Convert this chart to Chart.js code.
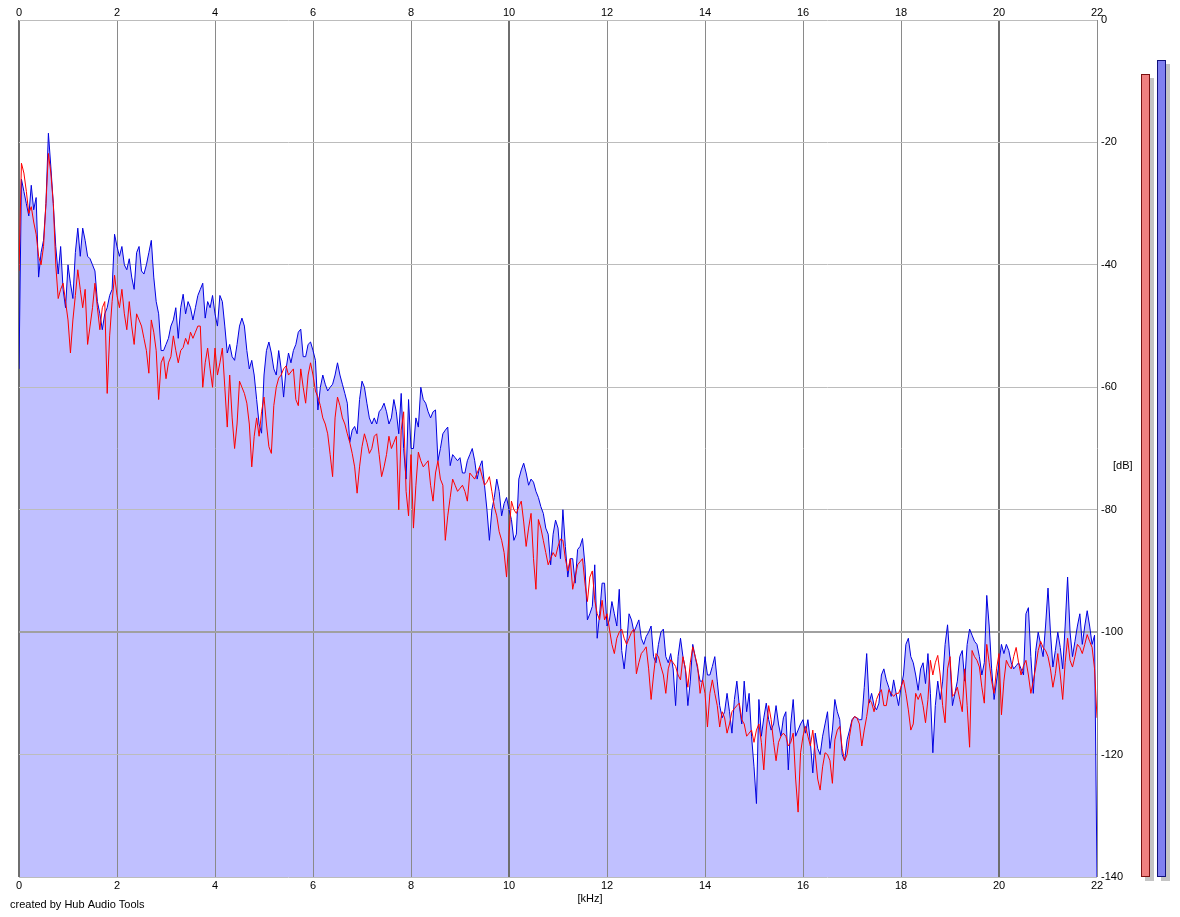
<!DOCTYPE html>
<html>
<head>
<meta charset="utf-8">
<script src="https://cdn.jsdelivr.net/npm/chart.js@4.4.1/dist/chart.umd.min.js"></script>
<style>
  html, body { margin: 0; padding: 0; background: #fff; }
  canvas { display: block; }
</style>
</head>
<body>
<canvas id="spectrum" width="1180" height="917"></canvas>
<script>
// spectrum, one value every 0.05 kHz from 0 to 22 kHz (dB), 10 values per row = 0.5 kHz
const freqStep = 0.05;

const blueDb = [
  -57, -26, -28, -30, -32, -27, -31, -29, -42, -38,
  -36, -30, -18.5, -24, -30, -37, -41.5, -37, -44, -47,
  -40, -43, -45.5, -38, -34, -38.6, -34, -36, -38.6, -39,
  -40, -41, -46, -48, -50.6, -48, -47, -45, -44, -35,
  -37, -38.6, -37, -40, -40.8, -39, -42, -44, -38, -37,
  -41, -41.5, -40, -38, -36, -42, -46, -48, -54, -54,
  -53, -52, -50, -49, -47, -52, -47, -44.8, -48, -46,
  -47, -49, -47, -45, -44, -43, -48.7, -46, -47, -45,
  -48, -50, -45, -46, -50, -54.4, -53, -55, -55.6, -53,
  -50, -48.7, -50, -54, -57, -55.6, -58, -62, -66, -67.5,
  -58, -54, -52.6, -54.4, -57, -58, -54, -57, -61.6, -57,
  -54.4, -56, -54, -53, -51, -50.5, -55, -55, -53, -52.6,
  -54, -55.6, -63.7, -60, -58, -59.5, -60.6, -60, -59.5, -58,
  -56, -58, -59.5, -61, -62.6, -69, -67, -66.4, -67.6, -62,
  -59, -60, -62.6, -65, -66, -65, -66, -64, -63.5, -62.6,
  -64, -66, -65, -62, -64, -67.6, -61, -70, -75, -62,
  -70, -70, -65, -66.5, -60, -62, -62.6, -64, -65, -64,
  -63.7, -72, -70, -67.6, -67, -66.5, -72.8, -71, -71.5, -72,
  -71.5, -74, -74, -72, -71, -70, -72, -75, -73, -72,
  -76, -80, -85, -80, -78, -75, -77, -81, -79, -78,
  -80, -81.6, -85, -84, -75, -73.5, -72.4, -74, -76, -75,
  -75.5, -77, -78, -79.5, -80.6, -83, -84, -89, -84, -81.7,
  -83, -88, -80, -86, -91, -88, -88, -92, -86.5, -86,
  -84.7, -89, -98, -97, -95.8, -89, -101, -97, -92, -92,
  -99, -98, -95, -97, -99, -93, -103, -106, -102, -97,
  -98, -100, -99, -98, -101, -102, -100.7, -100, -99, -104,
  -105, -102, -100, -99.5, -104, -105, -103.5, -106, -112, -104,
  -101, -104, -106, -112, -108, -102, -104, -106, -108, -108,
  -104, -107, -107, -105.6, -104, -108, -112, -114, -113, -110,
  -113, -116.5, -111, -108, -112, -115, -108, -113, -110, -117,
  -122, -128, -111, -117, -114, -111.6, -114.3, -116, -115, -112,
  -115, -117, -114, -113, -122.5, -115, -111, -117, -116, -115,
  -114.3, -116.5, -114.3, -118, -123, -116.5, -119, -120, -117, -115,
  -113, -119, -116, -111, -113, -114.3, -120, -121, -117.6, -116,
  -114.3, -113.8, -114, -114.3, -114.3, -109, -103.5, -111.6, -110, -112,
  -112.7, -111.6, -107, -106, -107.8, -109, -110.5, -107.8, -110, -112,
  -109, -107, -102, -101, -104, -105, -107, -109.5, -106, -105,
  -108.4, -103.5, -110, -119.7, -112, -108, -111, -108, -102, -98.8,
  -104.6, -112, -110, -108, -104, -103, -108, -102, -99.5, -100.5,
  -101.5, -102, -104, -107, -105, -94, -99, -106, -111, -108,
  -105, -102, -103.5, -102, -103, -105, -106, -105.5, -105, -106,
  -107, -97, -96, -104, -110, -103, -100, -102, -104, -99,
  -92.8, -100, -105.7, -103, -100, -102.5, -106, -99, -91, -100,
  -104, -101.5, -99, -97, -102, -99, -96.5, -99, -102, -100.5,
  -140
];

const redDb = [
  -41, -23.4, -25, -28, -31.6, -30.5, -33, -35, -38.6, -40,
  -37, -30, -21.8, -25, -30, -40, -45.5, -44, -43, -46,
  -49, -54.4, -49, -45, -40.8, -44, -47, -44, -53, -50,
  -47, -43, -47, -50.6, -47, -46, -61, -51.6, -46, -41.7,
  -45, -47, -44, -48, -50.6, -46, -50, -53, -48, -49,
  -50, -52, -54, -57.7, -49, -51, -54, -62, -56, -55,
  -58.6, -56, -55, -51.6, -54, -56, -54, -53.5, -52, -53,
  -51, -52, -51, -50, -50, -60, -56, -53.6, -57, -60,
  -53.6, -58, -56, -53.6, -60, -66.5, -58, -65, -70, -66,
  -59, -60, -61, -62.6, -66, -73, -68, -65, -68, -64,
  -61.6, -66, -69.7, -70.8, -63, -60, -58.5, -58, -57, -56.5,
  -58, -57.5, -57, -62, -63, -57, -60, -62.6, -58, -56,
  -58, -60.6, -61.6, -63, -65, -66, -67.6, -71, -74.6, -65,
  -61.6, -63, -65, -66, -67.6, -69, -70.8, -73, -77.3, -73,
  -69.7, -67.6, -69, -70.8, -70, -68, -67.6, -71, -74.6, -73,
  -71, -68, -70, -69, -68, -80, -67, -64, -77, -81,
  -71, -83, -76, -70.6, -72, -73, -72.5, -72, -76, -78.6,
  -74, -72, -75, -76, -85, -81, -78, -75, -76, -77,
  -76.5, -76, -77, -78.6, -74, -74.5, -75, -74, -73, -74.5,
  -76, -75.5, -74.6, -77, -79.5, -81, -83.6, -85, -87, -91,
  -84, -78.6, -80, -80.6, -79.5, -78.6, -82, -86, -83, -80.6,
  -88, -93, -81.6, -83, -85, -87, -89, -88, -87, -87.7,
  -86, -84.8, -85, -88, -90, -88, -93, -91, -89, -88.5,
  -88, -92, -95, -91, -90, -94.8, -97, -98, -94.8, -98,
  -97, -99.5, -102, -103.5, -101, -100, -99.5, -101, -102, -101,
  -100, -99.5, -106.8, -105, -103.5, -103, -102.4, -106, -111, -107,
  -103.5, -104, -105.6, -107, -110, -106, -104.5, -105, -105.6, -107,
  -107.8, -104, -106, -109, -105, -102.4, -104, -105.6, -110, -107.8,
  -110, -115.5, -110, -107.8, -110, -112, -115.5, -113, -114, -116.5,
  -115, -113, -112.5, -112, -111.6, -114.3, -115, -117, -116.5, -116,
  -118, -116, -115, -118, -122.5, -116, -112, -114.3, -118, -121,
  -118, -117, -116.5, -117, -118.6, -118, -116.5, -124, -129.4, -119.7,
  -117, -115.4, -117, -118.6, -116, -120, -124, -125.8, -122, -119.7,
  -120, -121, -124.7, -117.6, -116, -115.4, -119, -121, -120, -117,
  -114.5, -113.8, -114, -115, -118.6, -116, -113.8, -111, -111.5, -113,
  -111, -110, -109.4, -112, -112, -109.4, -110, -110.5, -110, -110,
  -109, -107.8, -110, -112.7, -116, -115, -110, -111, -110, -112,
  -114.8, -111, -104.6, -107, -105, -103.8, -107, -112, -114.8, -106,
  -104, -110.5, -110, -109, -111, -113, -106, -112, -118.8, -103,
  -104, -104.6, -105.7, -109, -111.6, -102, -105, -108, -110, -106,
  -103.5, -113.5, -108, -104.6, -105.5, -106, -104, -102.5, -105, -107,
  -105.5, -104.6, -107, -110, -108, -105.7, -103, -101.5, -102.5, -103,
  -104, -106, -109, -106.8, -103.5, -107, -111, -105, -101, -104.6,
  -105.7, -104, -102, -102.5, -103.5, -102, -100.4, -101.5, -102.5, -106,
  -114
];

// peak level meters: left (red), right (blue)
const levelDb = [-8.8, -6.5];

const xTicks = [0, 2, 4, 6, 8, 10, 12, 14, 16, 18, 20, 22];
const yTicks = [0, -20, -40, -60, -80, -100, -120, -140];

const FONT = { family: '"Liberation Sans", Arial, sans-serif', size: 11 };
const toPoints = arr => arr.map((v, i) => ({ x: Math.round(i * freqStep * 100) / 100, y: v }));

// meters + free texts
const extras = {
  id: 'extras',
  afterDraw(chart) {
    const ctx = chart.ctx;
    const y = chart.scales.y;
    const base = y.getPixelForValue(yTicks[yTicks.length - 1]);
    const meters = [
      { x: 1141, fill: '#f08080', edge: '#7a1010' },
      { x: 1157, fill: '#8080f0', edge: '#10107a' }
    ];
    ctx.save();
    meters.forEach((m, i) => {
      const top = Math.round(y.getPixelForValue(levelDb[i]));
      ctx.fillStyle = '#c4c4c4';
      ctx.fillRect(m.x + 4, top + 4, 9, base - top);
      ctx.fillStyle = m.fill;
      ctx.fillRect(m.x, top, 9, base - top);
      ctx.strokeStyle = m.edge;
      ctx.lineWidth = 1;
      ctx.strokeRect(m.x + 0.5, top + 0.5, 8, base - top - 1);
    });

    ctx.fillStyle = '#000';
    ctx.font = '11px ' + FONT.family;
    ctx.textBaseline = 'middle';
    ctx.textAlign = 'left';
    ctx.fillText('[dB]', 1113, 466);
    ctx.fillText('created by Hub Audio Tools', 10, 905);
    ctx.textAlign = 'center';
    ctx.fillText('[kHz]', 590, 899);
    ctx.restore();
  }
};

new Chart(document.getElementById('spectrum'), {
  type: 'line',
  data: {
    datasets: [
      {
        label: 'L',
        data: toPoints(redDb),
        borderColor: '#ff0000',
        borderWidth: 1,
        pointRadius: 0,
        tension: 0,
        fill: false
      },
      {
        label: 'R',
        data: toPoints(blueDb),
        borderColor: '#0000e0',
        borderWidth: 1,
        pointRadius: 0,
        tension: 0,
        fill: 'start',
        backgroundColor: '#c0c0ff'
      }
    ]
  },
  options: {
    responsive: false,
    devicePixelRatio: 1,
    animation: false,
    layout: { padding: { left: 19, right: 0, top: 0, bottom: 0 } },
    plugins: {
      legend: { display: false },
      tooltip: { enabled: false },
      filler: { drawTime: 'beforeDraw' } // grid stays visible over the fill
    },
    scales: {
      x: {
        type: 'linear',
        position: 'bottom',
        min: 0, max: 22,
        afterBuildTicks: s => { s.ticks = xTicks.map(v => ({ value: v })); },
        afterFit: s => { s.height = 40; },
        border: { display: false },
        grid: {
          drawTicks: false,
          color: c => (c.tick && c.tick.value % 10 === 0) ? '#6e6e6e' : '#8a8a8a',
          lineWidth: c => (c.tick && c.tick.value % 10 === 0) ? 2 : 1
        },
        ticks: { font: FONT, color: '#000', padding: 2, maxRotation: 0, autoSkip: false }
      },
      x2: {
        type: 'linear',
        position: 'top',
        min: 0, max: 22,
        afterBuildTicks: s => { s.ticks = xTicks.map(v => ({ value: v })); },
        afterFit: s => { s.height = 20; },
        border: { display: false },
        grid: { display: false, drawTicks: false },
        ticks: { font: FONT, color: '#000', padding: 0, maxRotation: 0, autoSkip: false }
      },
      y: {
        position: 'right',
        min: -140, max: 0,
        afterBuildTicks: s => { s.ticks = yTicks.map(v => ({ value: v })); },
        afterFit: s => { s.width = 83; },
        border: { display: false },
        grid: {
          drawTicks: false,
          color: c => (c.tick && c.tick.value === -100) ? '#a0a0a0' : '#bcbcbc',
          lineWidth: c => (c.tick && c.tick.value === -100) ? 2 : 1
        },
        ticks: { font: FONT, color: '#000', padding: 4, autoSkip: false }
      }
    }
  },
  plugins: [extras]
});
</script>
</body>
</html>
